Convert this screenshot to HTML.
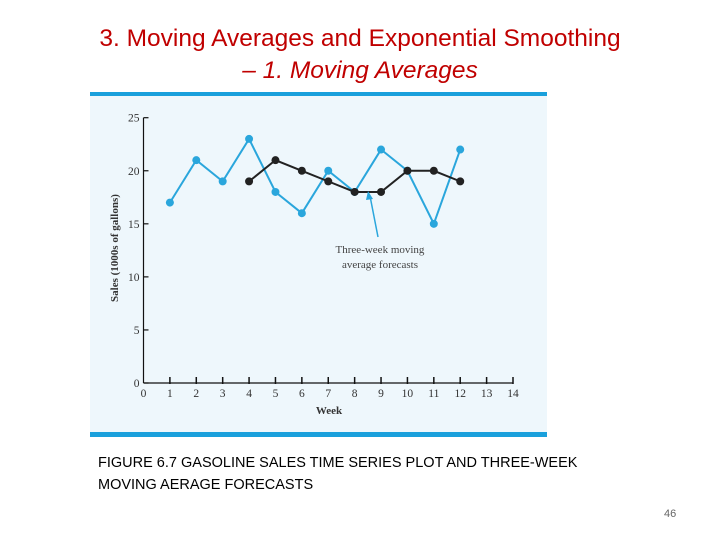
<!DOCTYPE html>
<html><head><meta charset="utf-8"><style>
body{margin:0;width:720px;height:540px;background:#fff;position:relative;font-family:"Liberation Sans",sans-serif;overflow:hidden}
.t{position:absolute;left:0;width:720px;text-align:center;color:#c00000;font-size:24.5px;line-height:30px}
</style></head><body>
<div class="t" style="top:24px;">3. Moving Averages and Exponential Smoothing</div>
<div class="t" style="top:56px;font-style:italic;">– 1. Moving Averages</div>
<svg width="720" height="540" style="position:absolute;left:0;top:0">
<rect x="90" y="94" width="457" height="340" fill="#eef7fc"/>
<rect x="90" y="92" width="457" height="4" fill="#1aa0dc"/>
<rect x="90" y="432" width="457" height="5" fill="#1aa0dc"/>
<g id="g"></g>
</svg>
<div style="position:absolute;left:98px;top:452px;font-size:14.5px;line-height:22px;color:#000">FIGURE 6.7 GASOLINE SALES TIME SERIES PLOT AND THREE-WEEK<br>MOVING AERAGE FORECASTS</div>
<div style="position:absolute;left:664px;top:508px;font-size:11px;color:#666">46</div>
<script>
const weeks=[1,2,3,4,5,6,7,8,9,10,11,12];
const sales=[17,21,19,23,18,16,20,18,22,20,15,22];
const fWeeks=[4,5,6,7,8,9,10,11,12];
const forecast=[19,21,20,19,18,18,20,20,19];
const xTicks=[0,1,2,3,4,5,6,7,8,9,10,11,12,13,14];
const yTicks=[0,5,10,15,20,25];
const X=v=>143.5+v*(513-143.5)/14, Y=v=>383-v*(383-117.7)/25;
const g=document.getElementById('g');const NS='http://www.w3.org/2000/svg';
function el(t,a,name){const e=document.createElementNS(NS,t);for(const k in a)e.setAttribute(k,a[k]);


g.appendChild(e);return e;}
el('line',{x1:X(0),y1:Y(0),x2:X(14),y2:Y(0),stroke:'#111','stroke-width':1.2},'x-axis');
el('line',{x1:X(0),y1:Y(0),x2:X(0),y2:Y(25),stroke:'#111','stroke-width':1.2},'y-axis');
xTicks.forEach(v=>{if(v>0)el('line',{x1:X(v),y1:Y(0)-6,x2:X(v),y2:Y(0)+1,stroke:'#111','stroke-width':1.5},'x-tick');
const t=el('text',{x:X(v),y:397,'text-anchor':'middle','font-family':'Liberation Serif','font-size':11.5,fill:'#333'},'x-tick-label');t.textContent=v;});
yTicks.forEach(v=>{el('line',{x1:X(0),y1:Y(v),x2:X(0)+5,y2:Y(v),stroke:'#111','stroke-width':1.2},'y-tick');
const t=el('text',{x:X(0)-4,y:Y(v)+4,'text-anchor':'end','font-family':'Liberation Serif','font-size':11.5,fill:'#333'},'y-tick-label');t.textContent=v;});
let t=el('text',{x:329,y:414,'text-anchor':'middle','font-family':'Liberation Serif','font-size':11,'font-weight':'bold',fill:'#333'},'x-axis-title');t.textContent='Week';
t=el('text',{x:0,y:0,transform:'translate(118,248) rotate(-90)','text-anchor':'middle','font-family':'Liberation Serif','font-size':11,'font-weight':'bold',fill:'#333'},'y-axis-title');t.textContent='Sales (1000s of gallons)';
el('polyline',{points:weeks.map((w,i)=>X(w)+','+Y(sales[i])).join(' '),fill:'none',stroke:'#2aa6dc','stroke-width':2},'sales-line');
weeks.forEach((w,i)=>el('circle',{cx:X(w),cy:Y(sales[i]),r:4,fill:'#2aa6dc'},'sales-point'));
el('polyline',{points:fWeeks.map((w,i)=>X(w)+','+Y(forecast[i])).join(' '),fill:'none',stroke:'#222','stroke-width':2},'forecast-line');
fWeeks.forEach((w,i)=>el('circle',{cx:X(w),cy:Y(forecast[i]),r:4,fill:'#222'},'forecast-point'));
el('line',{x1:378,y1:237,x2:370,y2:196,stroke:'#2aa6dc','stroke-width':1.5},'annotation-arrow');
el('polygon',{points:'368,191 366,200 373,199',fill:'#2aa6dc'},'annotation-arrowhead');
t=el('text',{x:380,y:253,'text-anchor':'middle','font-family':'Liberation Serif','font-size':11,fill:'#444'},'annotation-line1');t.textContent='Three-week moving';
t=el('text',{x:380,y:268,'text-anchor':'middle','font-family':'Liberation Serif','font-size':11,fill:'#444'},'annotation-line2');t.textContent='average forecasts';
</script>
</body></html>
